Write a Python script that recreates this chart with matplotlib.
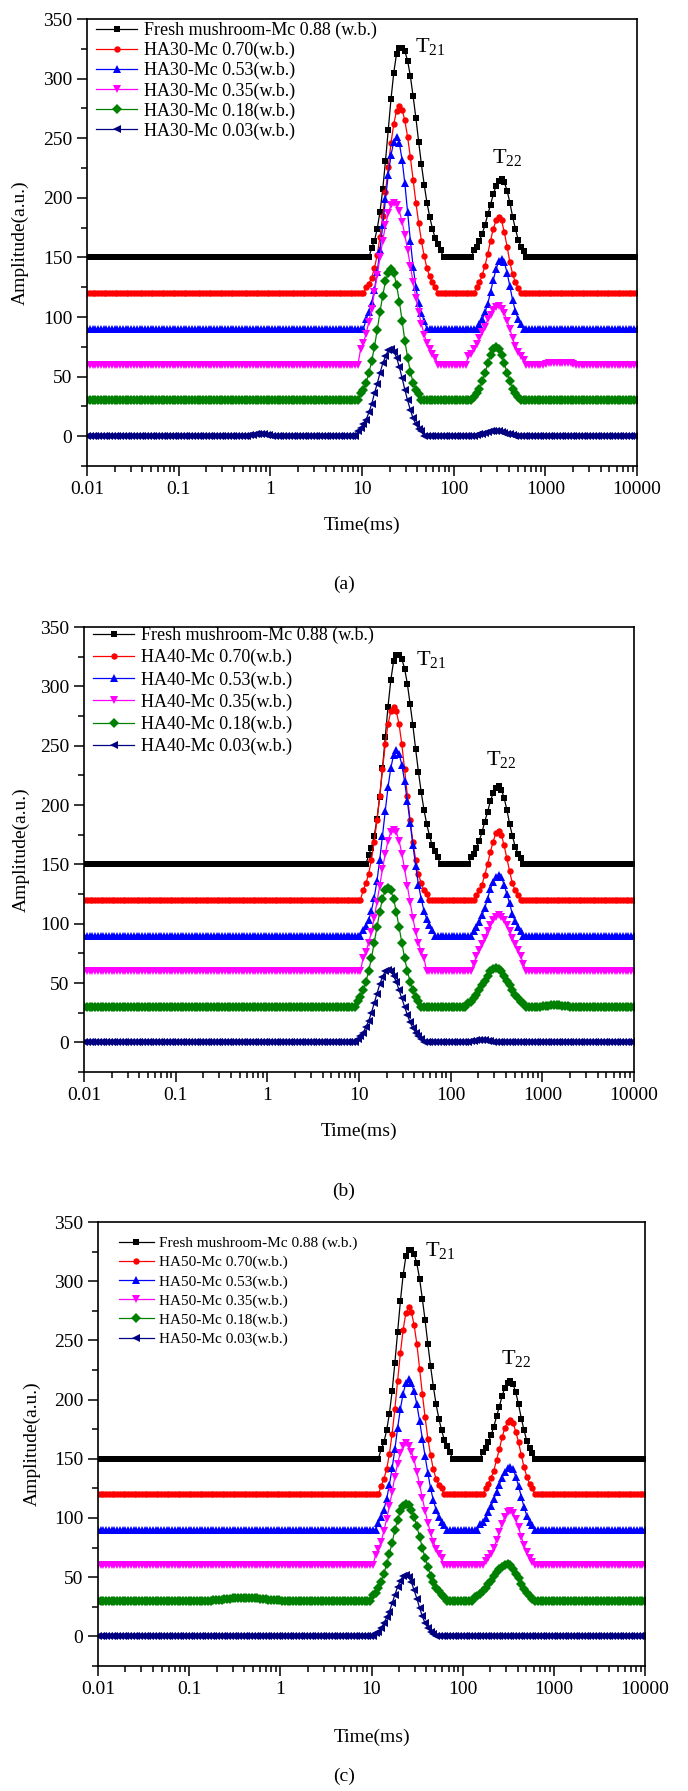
import matplotlib
matplotlib.use('Agg')
import matplotlib.pyplot as plt
import numpy as np
from matplotlib.ticker import LogLocator, MultipleLocator, NullFormatter

plt.rcParams['font.family'] = ['Liberation Serif', 'DejaVu Serif']
plt.rcParams['mathtext.fontset'] = 'custom'
plt.rcParams['mathtext.rm'] = 'Liberation Serif'
plt.rcParams['mathtext.default'] = 'regular'

# T2 relaxation time grid (ms), 200 points from 0.01 to 10000 ms
n_points = 200
time_ms = np.logspace(-2, 4, n_points)

# vertical offsets used in the original stacked plot
baselines = [150, 120, 90, 60, 30, 0]
colors = ['black', 'red', 'blue', 'magenta', 'green', 'navy']
markers = ['s', 'o', '^', 'v', 'D', '<']

# peaks: (first grid index, amplitudes above baseline)
fresh_peaks = [(103, [8, 14, 24, 38, 57, 81, 107, 133, 155, 171, 176, 176, 173, 165, 152, 135, 117, 97, 78,
                      61, 46, 34, 24, 16, 11, 6]),
               (140, [6, 9, 14, 20, 27, 36, 44, 53, 60, 64, 66, 63, 56, 46, 34, 24, 15, 9, 5])]

# panel (a) HA30
a_red = [(101, [5, 8, 13, 21, 32, 47, 65, 85, 106, 126, 142, 153, 157, 154, 145, 131, 114, 95, 76, 59, 44, 31,
                21, 14, 9, 5]),
         (141, [5, 9, 15, 23, 33, 44, 54, 61, 64, 61, 51, 39, 26, 16, 9, 4])]
a_blue = [(101, [8, 14, 22, 33, 48, 66, 87, 109, 129, 146, 157, 161, 156, 142, 122, 98, 74, 52, 35, 22, 13, 7]),
          (142, [4, 8, 14, 21, 31, 41, 50, 57, 59, 56, 47, 36, 24, 15, 8, 4])]
a_magenta = [(99, [13, 18, 26, 36, 47, 61, 75, 90, 104, 117, 127, 134, 136, 134, 129, 120, 109, 96, 83, 69, 56,
                   44, 34, 25, 18, 13, 9, 6]),
             (138, [7, 9, 13, 17, 22, 27, 32, 38, 42, 46, 48, 49, 47, 43, 37, 30, 22, 16, 11, 7, 4]),
             (166, [0.5, 1, 1, 1.5, 1.5, 1.5, 1.5, 1.5, 1, 1, 0.5])]
a_green = [(99, [6, 9, 15, 23, 33, 45, 59, 74, 88, 100, 107, 110, 107, 97, 83, 67, 50, 36, 24, 15, 9, 5]),
           (140, [3, 6, 10, 16, 23, 31, 38, 43, 45, 43, 38, 31, 23, 16, 10, 6, 3])]
a_navy = [(58, [0.5, 1, 1, 1.5, 1.5, 1.5, 1.5, 1, 1, 0.5]),
          (98, [4, 7, 10, 14, 20, 27, 36, 44, 53, 61, 67, 72, 73, 71, 66, 58, 49, 39, 30, 22, 15, 10, 6, 4]),
          (141, [1, 1.5, 2, 3, 3.5, 4, 4.5, 4.5, 4, 3.5, 3, 2, 1.5, 1])]

# panel (b) HA40
b_red = [(101, [8, 14, 22, 34, 49, 67, 88, 110, 131, 148, 159, 163, 159, 148, 131, 110, 88, 67, 49, 34, 22, 14,
                8, 5]),
         (142, [4, 8, 13, 21, 30, 40, 49, 56, 58, 55, 46, 35, 24, 14, 8, 4])]
b_blue = [(101, [5, 8, 13, 21, 32, 46, 64, 84, 105, 125, 141, 152, 156, 153, 144, 130, 113, 95, 76, 59, 43, 31,
                 21, 14, 9, 5]),
          (141, [4, 7, 11, 17, 23, 31, 39, 45, 49, 51, 49, 43, 35, 27, 18, 12, 7, 4])]
b_magenta = [(101, [11, 16, 24, 33, 45, 58, 72, 86, 99, 110, 117, 119, 117, 110, 99, 86, 72, 58, 45, 33, 24, 16,
                    11]),
             (141, [6, 13, 18, 23, 28, 34, 39, 43, 46, 47, 46, 43, 39, 34, 28, 23, 18, 13, 6])]
b_green = [(99, [5, 8, 14, 21, 30, 41, 54, 67, 80, 91, 98, 100, 98, 91, 80, 67, 54, 41, 30, 21, 14, 8, 5]),
           (139, [3, 4, 7, 10, 14, 18, 22, 26, 30, 32, 33, 32, 30, 26, 22, 18, 14, 10, 7, 4, 3]),
           (166, [0.5, 1, 1, 1.5, 1.5, 1.5, 1.5, 1, 1, 0.5])]
b_navy = [(99, [3, 5, 8, 13, 18, 25, 33, 41, 49, 55, 60, 61, 60, 56, 51, 44, 37, 30, 23, 17, 12, 8, 5, 3]),
          (139, [0.5, 1, 1.5, 2, 2, 2, 2, 1.5, 1, 0.5])]

# panel (c) HA50
c_red = [(103, [7, 13, 21, 34, 51, 72, 96, 119, 139, 153, 158, 154, 143, 127, 106, 85, 65, 47, 33, 21, 13, 8, 5]),
         (141, [5, 9, 14, 20, 29, 38, 48, 56, 61, 63, 60, 53, 44, 33, 23, 15, 9, 5])]
c_blue = [(102, [6, 11, 17, 26, 38, 52, 68, 86, 102, 115, 124, 127, 124, 117, 106, 92, 77, 62, 48, 35, 25, 17,
                 11, 7, 4]),
          (139, [5, 7, 10, 15, 20, 26, 32, 38, 44, 49, 52, 53, 51, 45, 37, 28, 19, 12, 7, 4])]
c_magenta = [(101, [9, 14, 20, 29, 39, 50, 62, 75, 86, 95, 101, 103, 101, 96, 89, 79, 68, 57, 46, 36, 27, 20,
                    14, 10, 6]),
             (141, [4, 6, 10, 15, 21, 28, 35, 41, 45, 46, 44, 39, 32, 24, 17, 11, 6, 3])]
c_green = [(41, [0.3, 0.5, 0.7, 0.9, 1.1, 1.4, 1.6, 1.9, 2.1, 2.3, 2.4, 2.5, 2.5, 2.5, 2.5, 2.4, 2.3, 2.1, 1.9,
                 1.6, 1.4, 1.1, 0.9, 0.7, 0.5, 0.4, 0.3, 0.2, 0.1]),
           (100, [5, 7, 11, 16, 23, 31, 40, 49, 60, 68, 76, 80, 82, 81, 77, 71, 63, 54, 45, 36, 29, 21, 16, 11, 8,
                  5, 3]),
           (137, [3, 4, 6, 8, 11, 14, 17, 21, 24, 27, 29, 30, 31, 30, 27, 23, 19, 14, 10, 7, 4, 2])]
c_navy = [(101, [3, 4, 7, 11, 16, 21, 28, 35, 42, 47, 51, 52, 50, 46, 39, 32, 24, 17, 11, 7, 4, 2])]

labels_a = ['Fresh mushroom-Mc 0.88 (w.b.)', 'HA30-Mc 0.70(w.b.)', 'HA30-Mc 0.53(w.b.)',
            'HA30-Mc 0.35(w.b.)', 'HA30-Mc 0.18(w.b.)', 'HA30-Mc 0.03(w.b.)']
labels_b = ['Fresh mushroom-Mc 0.88 (w.b.)', 'HA40-Mc 0.70(w.b.)', 'HA40-Mc 0.53(w.b.)',
            'HA40-Mc 0.35(w.b.)', 'HA40-Mc 0.18(w.b.)', 'HA40-Mc 0.03(w.b.)']
labels_c = ['Fresh mushroom-Mc 0.88 (w.b.)', 'HA50-Mc 0.70(w.b.)', 'HA50-Mc 0.53(w.b.)',
            'HA50-Mc 0.35(w.b.)', 'HA50-Mc 0.18(w.b.)', 'HA50-Mc 0.03(w.b.)']

x_ticks = [0.01, 0.1, 1, 10, 100, 1000, 10000]
x_tick_labels = ['0.01', '0.1', '1', '10', '100', '1000', '10000']


def build_curve(peaks, base):
    y = np.full(n_points, float(base))
    for start, vals in peaks:
        y[start:start + len(vals)] += np.asarray(vals, dtype=float)
    return y


def draw_panel(ax, series, labels, legend_pos, legend_font, legend_spacing, t21_pos, t22_pos,
               ylabel_x, xlabel_y):
    for peaks, base, col, mk, lab in zip(series, baselines, colors, markers, labels):
        ms = 4.6 if mk in ('s', 'o', 'D') else 5.4
        ax.plot(time_ms, build_curve(peaks, base), color=col, marker=mk, markersize=ms,
                linewidth=0.9, markeredgewidth=0, label=lab)
    ax.set_xscale('log')
    ax.set_xlim(0.01, 10000)
    ax.set_ylim(-25, 350)
    ax.set_xticks(x_ticks)
    ax.set_xticklabels(x_tick_labels)
    ax.xaxis.set_minor_locator(LogLocator(base=10, subs=np.arange(2, 10)))
    ax.xaxis.set_minor_formatter(NullFormatter())
    ax.yaxis.set_major_locator(MultipleLocator(50))
    ax.yaxis.set_minor_locator(MultipleLocator(25))
    ax.tick_params(which='both', direction='out', top=False, right=False, labelsize=14, width=1.1)
    ax.tick_params(which='major', length=7)
    ax.tick_params(which='minor', length=4)
    for sp in ax.spines.values():
        sp.set_linewidth(1.2)
    ax.set_xlabel('Time(ms)', fontsize=14)
    ax.xaxis.set_label_coords(0.5, xlabel_y)
    ax.xaxis.label.set_va('center')
    ax.set_ylabel('Amplitude(a.u.)', fontsize=14)
    ax.yaxis.set_label_coords(ylabel_x, 0.5)
    ax.yaxis.label.set_va('center')
    ax.legend(loc='upper left', bbox_to_anchor=legend_pos, frameon=False, fontsize=legend_font,
              borderaxespad=0, borderpad=0, handlelength=2.3, handletextpad=0.35,
              labelspacing=legend_spacing, numpoints=1)
    ax.text(t21_pos[0], t21_pos[1], r'T$_{21}$', fontsize=16, ha='left', va='center')
    ax.text(t22_pos[0], t22_pos[1], r'T$_{22}$', fontsize=16, ha='left', va='center')


fig = plt.figure(figsize=(6.88, 17.91), dpi=100)
W, H = 688.0, 1791.0

ax_a = fig.add_axes([87 / W, 1 - 466 / H, 550 / W, 447 / H])
ax_b = fig.add_axes([84 / W, 1 - 1072 / H, 550 / W, 445 / H])
ax_c = fig.add_axes([98 / W, 1 - 1666 / H, 547 / W, 444 / H])

draw_panel(ax_a, [fresh_peaks, a_red, a_blue, a_magenta, a_green, a_navy], labels_a,
           (0.016, 0.993), 13, 0.15, (38, 327), (262, 234), -0.122, -0.132)
draw_panel(ax_b, [fresh_peaks, b_red, b_blue, b_magenta, b_green, b_navy], labels_b,
           (0.016, 1.0), 13, 0.27, (42, 323), (245, 238), -0.115, -0.133)
draw_panel(ax_c, [fresh_peaks, c_red, c_blue, c_magenta, c_green, c_navy], labels_c,
           (0.038, 0.968), 11, 0.35, (38.6, 326), (265, 235), -0.121, -0.16)

fig.text(0.5, 1 - 584 / H, '(a)', ha='center', va='center', fontsize=14)
fig.text(0.5, 1 - 1191 / H, '(b)', ha='center', va='center', fontsize=14)
fig.text(0.5, 1 - 1776 / H, '(c)', ha='center', va='center', fontsize=14)

fig.savefig('out.png', dpi=100)
